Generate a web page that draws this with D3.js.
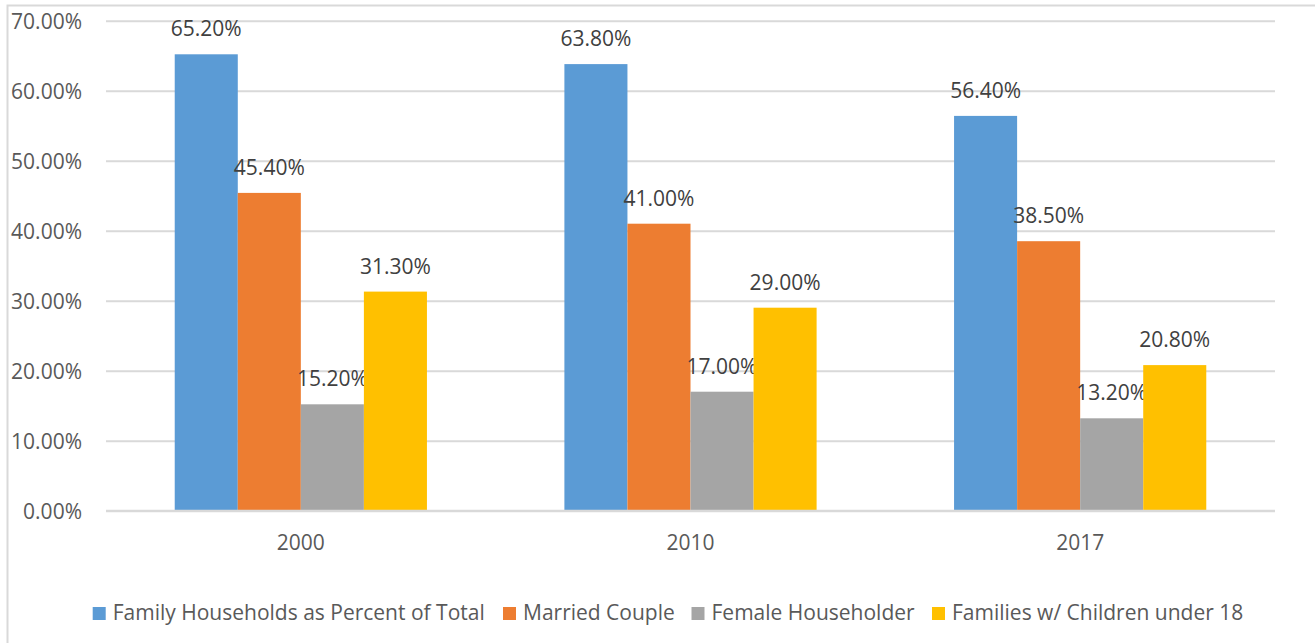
<!DOCTYPE html>
<html>
<head>
<meta charset="utf-8">
<script src="https://cdn.jsdelivr.net/npm/d3@7/dist/d3.min.js"></script>
<style>
  html, body { margin: 0; padding: 0; background: #fff; }
  svg { display: block; }
  text { font-family: "Open Sans", "Noto Sans", sans-serif; }
</style>
</head>
<body>
<svg id="chart" width="1315" height="643"></svg>
<script>
const categories = ["2000", "2010", "2017"];
const seriesNames = ["Family Households as Percent of Total", "Married Couple", "Female Householder", "Families w/ Children under 18"];
const familyHouseholds = [65.2, 63.8, 56.4];
const marriedCouple = [45.4, 41.0, 38.5];
const femaleHouseholder = [15.2, 17.0, 13.2];
const familiesWithChildren = [31.3, 29.0, 20.8];
const yTicks = [0, 10, 20, 30, 40, 50, 60, 70];
const colors = ["#5B9BD5", "#ED7D31", "#A5A5A5", "#FFC000"];

const seriesValues = [familyHouseholds, marriedCouple, femaleHouseholder, familiesWithChildren];

const svg = d3.select("#chart");
const W = 1315, H = 643;
const plot = { left: 106, right: 1275, top: 20.7, bottom: 510.7 };
const FS = "21px";

// outer border
svg.append("rect")
  .attr("x", 7.5).attr("y", 5.5)
  .attr("width", W + 20).attr("height", H + 20)
  .attr("fill", "#fff").attr("stroke", "#D9D9D9").attr("stroke-width", 2);

const x0 = d3.scaleBand().domain(categories).range([plot.left, plot.right]).paddingInner(0).paddingOuter(0);
const gapRatio = 2.18;
const barW = x0.bandwidth() / (4 + gapRatio);
const x1 = d3.scaleBand().domain(d3.range(4)).range([0, barW * 4]);
const y = d3.scaleLinear().domain([0, 70]).range([plot.bottom, plot.top]);

// gridlines
const yAxis = d3.axisLeft(y).tickValues(yTicks).tickSize(-(plot.right - plot.left)).tickFormat(d => d.toFixed(2) + "%").tickPadding(24);
const gy = svg.append("g").attr("transform", `translate(${plot.left},0)`).call(yAxis);
gy.select(".domain").remove();
gy.selectAll(".tick line").attr("stroke", "#D9D9D9").attr("stroke-width", 2);
gy.selectAll(".tick text")
  .attr("fill", "#595959")
  .style("font-size", FS)
  .attr("dy", "0.36em");

// bars
const groups = svg.append("g").selectAll("g")
  .data(categories)
  .join("g")
  .attr("transform", d => `translate(${x0(d) + (x0.bandwidth() - barW * 4) / 2},0)`);

groups.each(function(cat, ci) {
  const g = d3.select(this);
  seriesValues.forEach((vals, si) => {
    const v = vals[ci];
    g.append("rect")
      .attr("x", x1(si))
      .attr("y", y(v))
      .attr("width", x1.bandwidth())
      .attr("height", y(0) - y(v))
      .attr("fill", colors[si]);
    g.append("text")
      .attr("x", x1(si) + x1.bandwidth() / 2)
      .attr("y", y(v) - 18)
      .attr("text-anchor", "middle")
      .attr("fill", "#404040")
      .style("font-size", FS)
      .text(v.toFixed(2) + "%");
  });
});

// x axis
const xAxis = d3.axisBottom(x0).tickSize(0).tickPadding(0);
const gx = svg.append("g").attr("transform", `translate(0,${plot.bottom})`).call(xAxis);
gx.select(".domain").remove();
svg.append("line")
  .attr("x1", plot.left).attr("x2", plot.right)
  .attr("y1", plot.bottom).attr("y2", plot.bottom)
  .attr("stroke", "#D9D9D9").attr("stroke-width", 2);
gx.selectAll(".tick text")
  .attr("fill", "#595959")
  .style("font-size", FS)
  .attr("dy", null)
  .attr("y", 39.5);

// legend
const legendX = [92.7, 503, 691.5, 932];
const legend = svg.append("g");
seriesNames.forEach((name, i) => {
  legend.append("rect")
    .attr("x", legendX[i]).attr("y", 607)
    .attr("width", 13).attr("height", 13)
    .attr("fill", colors[i]);
  legend.append("text")
    .attr("x", legendX[i] + 20).attr("y", 620)
    .attr("fill", "#595959")
    .style("font-size", FS)
    .text(name);
});
</script>
</body>
</html>
